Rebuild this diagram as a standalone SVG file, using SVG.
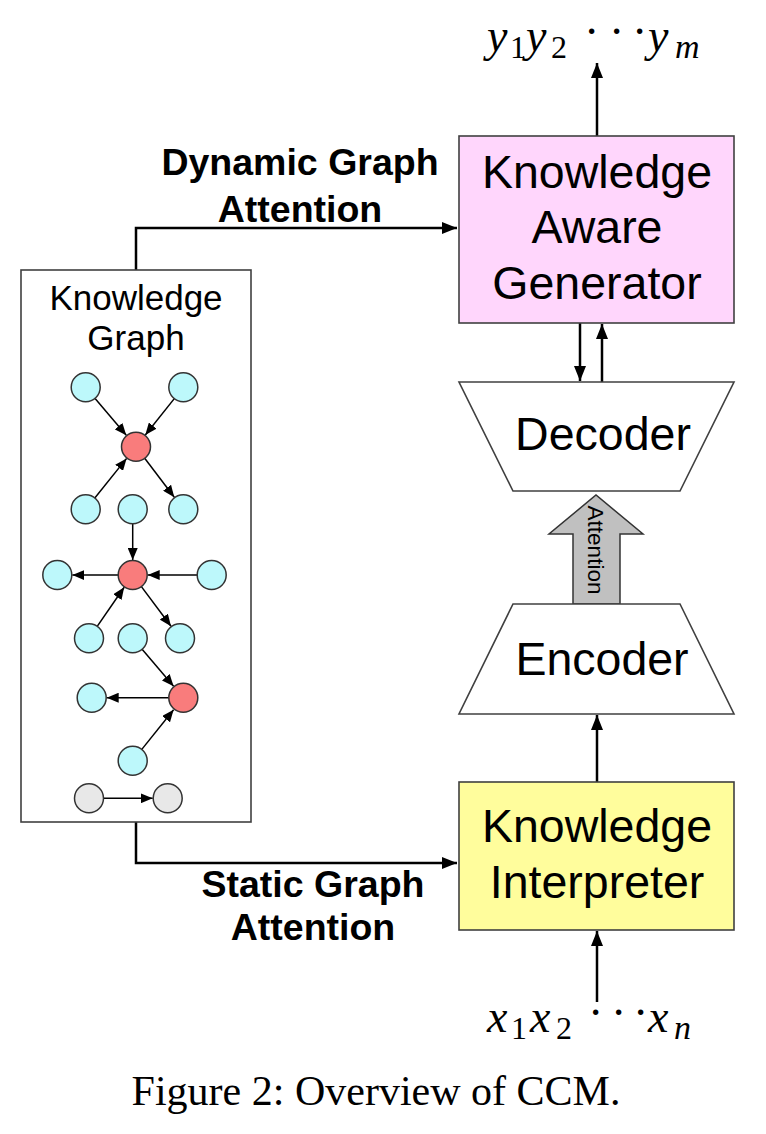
<svg xmlns="http://www.w3.org/2000/svg" width="766" height="1134" viewBox="0 0 766 1134">
<defs>
<style>
.box{stroke:#404040;stroke-width:1.6}
.lbl{font-family:"Liberation Sans",Arial,sans-serif;fill:#000;text-anchor:middle}
.bold{font-family:"Liberation Sans",Arial,sans-serif;font-weight:bold;fill:#000;text-anchor:middle;font-size:37.5px}
.math{font-family:"Liberation Serif","Times New Roman",serif;fill:#000}
.conn{fill:none;stroke:#000;stroke-width:2.5}
.edge{fill:none;stroke:#000;stroke-width:1.5}
.cy{fill:#bdf8fb;stroke:#333;stroke-width:1.5}
.rd{fill:#f97c7c;stroke:#333;stroke-width:1.5}
.gy{fill:#e8e8e8;stroke:#333;stroke-width:1.5}
</style>
<marker id="big" markerUnits="userSpaceOnUse" markerWidth="16" markerHeight="12" refX="15" refY="6" orient="auto">
<path d="M0,0 L15,6 L0,12 z" fill="#000"/>
</marker>
<marker id="sm" markerUnits="userSpaceOnUse" markerWidth="13" markerHeight="10" refX="12" refY="5" orient="auto">
<path d="M0,0 L12,5 L0,10 z" fill="#000"/>
</marker>
</defs>
<rect width="766" height="1134" fill="#fff"/>

<g id="connectors">
<path class="conn" d="M136,270 V228 H457" marker-end="url(#big)"/>
<path class="conn" d="M136,822 V863 H457" marker-end="url(#big)"/>
<path class="conn" d="M597,136 V63" marker-end="url(#big)"/>
<path class="conn" d="M580,323 V381" marker-end="url(#big)"/>
<path class="conn" d="M602,382 V324" marker-end="url(#big)"/>
<path class="conn" d="M597,782 V715" marker-end="url(#big)"/>
<path class="conn" d="M597,1002 V931" marker-end="url(#big)"/>
</g>

<g id="knowledge-graph">
<rect class="box" x="21" y="270" width="230" height="552" fill="#fff"/>
<text class="lbl" font-size="35" x="136" y="310">Knowledge</text>
<text class="lbl" font-size="35" x="136" y="350">Graph</text>
<g id="graph-edges">
<line class="edge" x1="95.1" y1="398.4" x2="126.3" y2="435.3" marker-end="url(#sm)"/>
<line class="edge" x1="174.3" y1="398.6" x2="145.3" y2="435.0" marker-end="url(#sm)"/>
<line class="edge" x1="94.8" y1="498.0" x2="126.6" y2="458.4" marker-end="url(#sm)"/>
<line class="edge" x1="144.7" y1="458.3" x2="174.3" y2="497.3" marker-end="url(#sm)"/>
<line class="edge" x1="132.7" y1="523.8" x2="132.7" y2="560" marker-end="url(#sm)"/>
<line class="edge" x1="118.2" y1="575" x2="72.3" y2="575" marker-end="url(#sm)"/>
<line class="edge" x1="197.2" y1="575" x2="147.7" y2="575" marker-end="url(#sm)"/>
<line class="edge" x1="97.2" y1="626.4" x2="124.2" y2="587.3" marker-end="url(#sm)"/>
<line class="edge" x1="141.4" y1="586.6" x2="171" y2="626.3" marker-end="url(#sm)"/>
<line class="edge" x1="142.1" y1="649.3" x2="173.6" y2="686.3" marker-end="url(#sm)"/>
<line class="edge" x1="168.8" y1="697.7" x2="106.7" y2="697.7" marker-end="url(#sm)"/>
<line class="edge" x1="141.8" y1="749.4" x2="173.6" y2="709.8" marker-end="url(#sm)"/>
<line class="edge" x1="103.5" y1="798.3" x2="152.7" y2="798.3" marker-end="url(#sm)"/>
</g>
<g id="graph-nodes">
<circle class="cy" cx="85.7" cy="387.3" r="14.5"/>
<circle class="cy" cx="183.3" cy="387.3" r="14.5"/>
<circle class="rd" cx="136" cy="446.7" r="14.5"/>
<circle class="cy" cx="85.7" cy="509.3" r="14.5"/>
<circle class="cy" cx="132.7" cy="509.3" r="14.5"/>
<circle class="cy" cx="183.3" cy="509.3" r="14.5"/>
<circle class="rd" cx="132.7" cy="575" r="14.5"/>
<circle class="cy" cx="57.3" cy="575" r="14.5"/>
<circle class="cy" cx="211.7" cy="575" r="14.5"/>
<circle class="cy" cx="89" cy="638.3" r="14.5"/>
<circle class="cy" cx="132.7" cy="638.3" r="14.5"/>
<circle class="cy" cx="180" cy="638.3" r="14.5"/>
<circle class="rd" cx="183.3" cy="697.7" r="14.5"/>
<circle class="cy" cx="91.7" cy="697.7" r="14.5"/>
<circle class="cy" cx="132.7" cy="760.7" r="14.5"/>
<circle class="gy" cx="89" cy="798.3" r="14.5"/>
<circle class="gy" cx="167.7" cy="798.3" r="14.5"/>
</g>
</g>

<g id="label-dynamic">
<text class="bold" x="300" y="175">Dynamic Graph</text>
<text class="bold" x="300" y="222">Attention</text>
</g>
<g id="label-static">
<text class="bold" x="313" y="897">Static Graph</text>
<text class="bold" x="313" y="940">Attention</text>
</g>

<g id="generator">
<rect class="box" x="459" y="136" width="275" height="187" fill="#ffd6fc"/>
<text class="lbl" font-size="46.5" x="597" y="188">Knowledge</text>
<text class="lbl" font-size="46.5" x="597" y="243">Aware</text>
<text class="lbl" font-size="46.5" x="597" y="299">Generator</text>
</g>

<g id="decoder">
<polygon class="box" points="459,382 734,382 680,491 513,491" fill="#fff"/>
<text class="lbl" font-size="46.5" x="603" y="450">Decoder</text>
</g>

<g id="attention-arrow">
<polygon points="573,604 573,534 549,534 596,495 643,534 620,534 620,604" fill="#c0c0c0" stroke="#333" stroke-width="1.5"/>
<text class="lbl" font-size="22.5" transform="translate(588,550) rotate(90)" x="0" y="0">Attention</text>
</g>

<g id="encoder">
<polygon class="box" points="513,604 680,604 734,714 459,714" fill="#fff"/>
<text class="lbl" font-size="46.5" x="602" y="675">Encoder</text>
</g>

<g id="interpreter">
<rect class="box" x="459" y="782" width="275" height="148" fill="#fffd9c"/>
<text class="lbl" font-size="46.5" x="597" y="842">Knowledge</text>
<text class="lbl" font-size="46.5" x="597" y="898">Interpreter</text>
</g>

<g id="output-seq">
<text class="math" font-size="46"><tspan x="487" y="51" font-style="italic">y</tspan><tspan x="510" y="58" font-size="32">1</tspan><tspan x="526" y="51" font-style="italic">y</tspan><tspan x="551" y="58" font-size="32">2</tspan><tspan x="584" y="47">·</tspan><tspan x="609" y="47">·</tspan><tspan x="632" y="47">·</tspan><tspan x="648" y="51" font-style="italic">y</tspan><tspan x="675" y="58" font-size="34" font-style="italic">m</tspan></text>
</g>

<g id="input-seq">
<text class="math" font-size="46"><tspan x="487" y="1032" font-style="italic">x</tspan><tspan x="511" y="1039" font-size="32">1</tspan><tspan x="530" y="1032" font-style="italic">x</tspan><tspan x="556" y="1039" font-size="32">2</tspan><tspan x="588" y="1028">·</tspan><tspan x="611" y="1028">·</tspan><tspan x="633" y="1028">·</tspan><tspan x="648" y="1032" font-style="italic">x</tspan><tspan x="674" y="1039" font-size="34" font-style="italic">n</tspan></text>
</g>

<g id="caption">
<text x="376" y="1105" font-family="'Liberation Serif','Times New Roman',serif" font-size="42" text-anchor="middle" fill="#000">Figure 2: Overview of CCM.</text>
</g>
</svg>
